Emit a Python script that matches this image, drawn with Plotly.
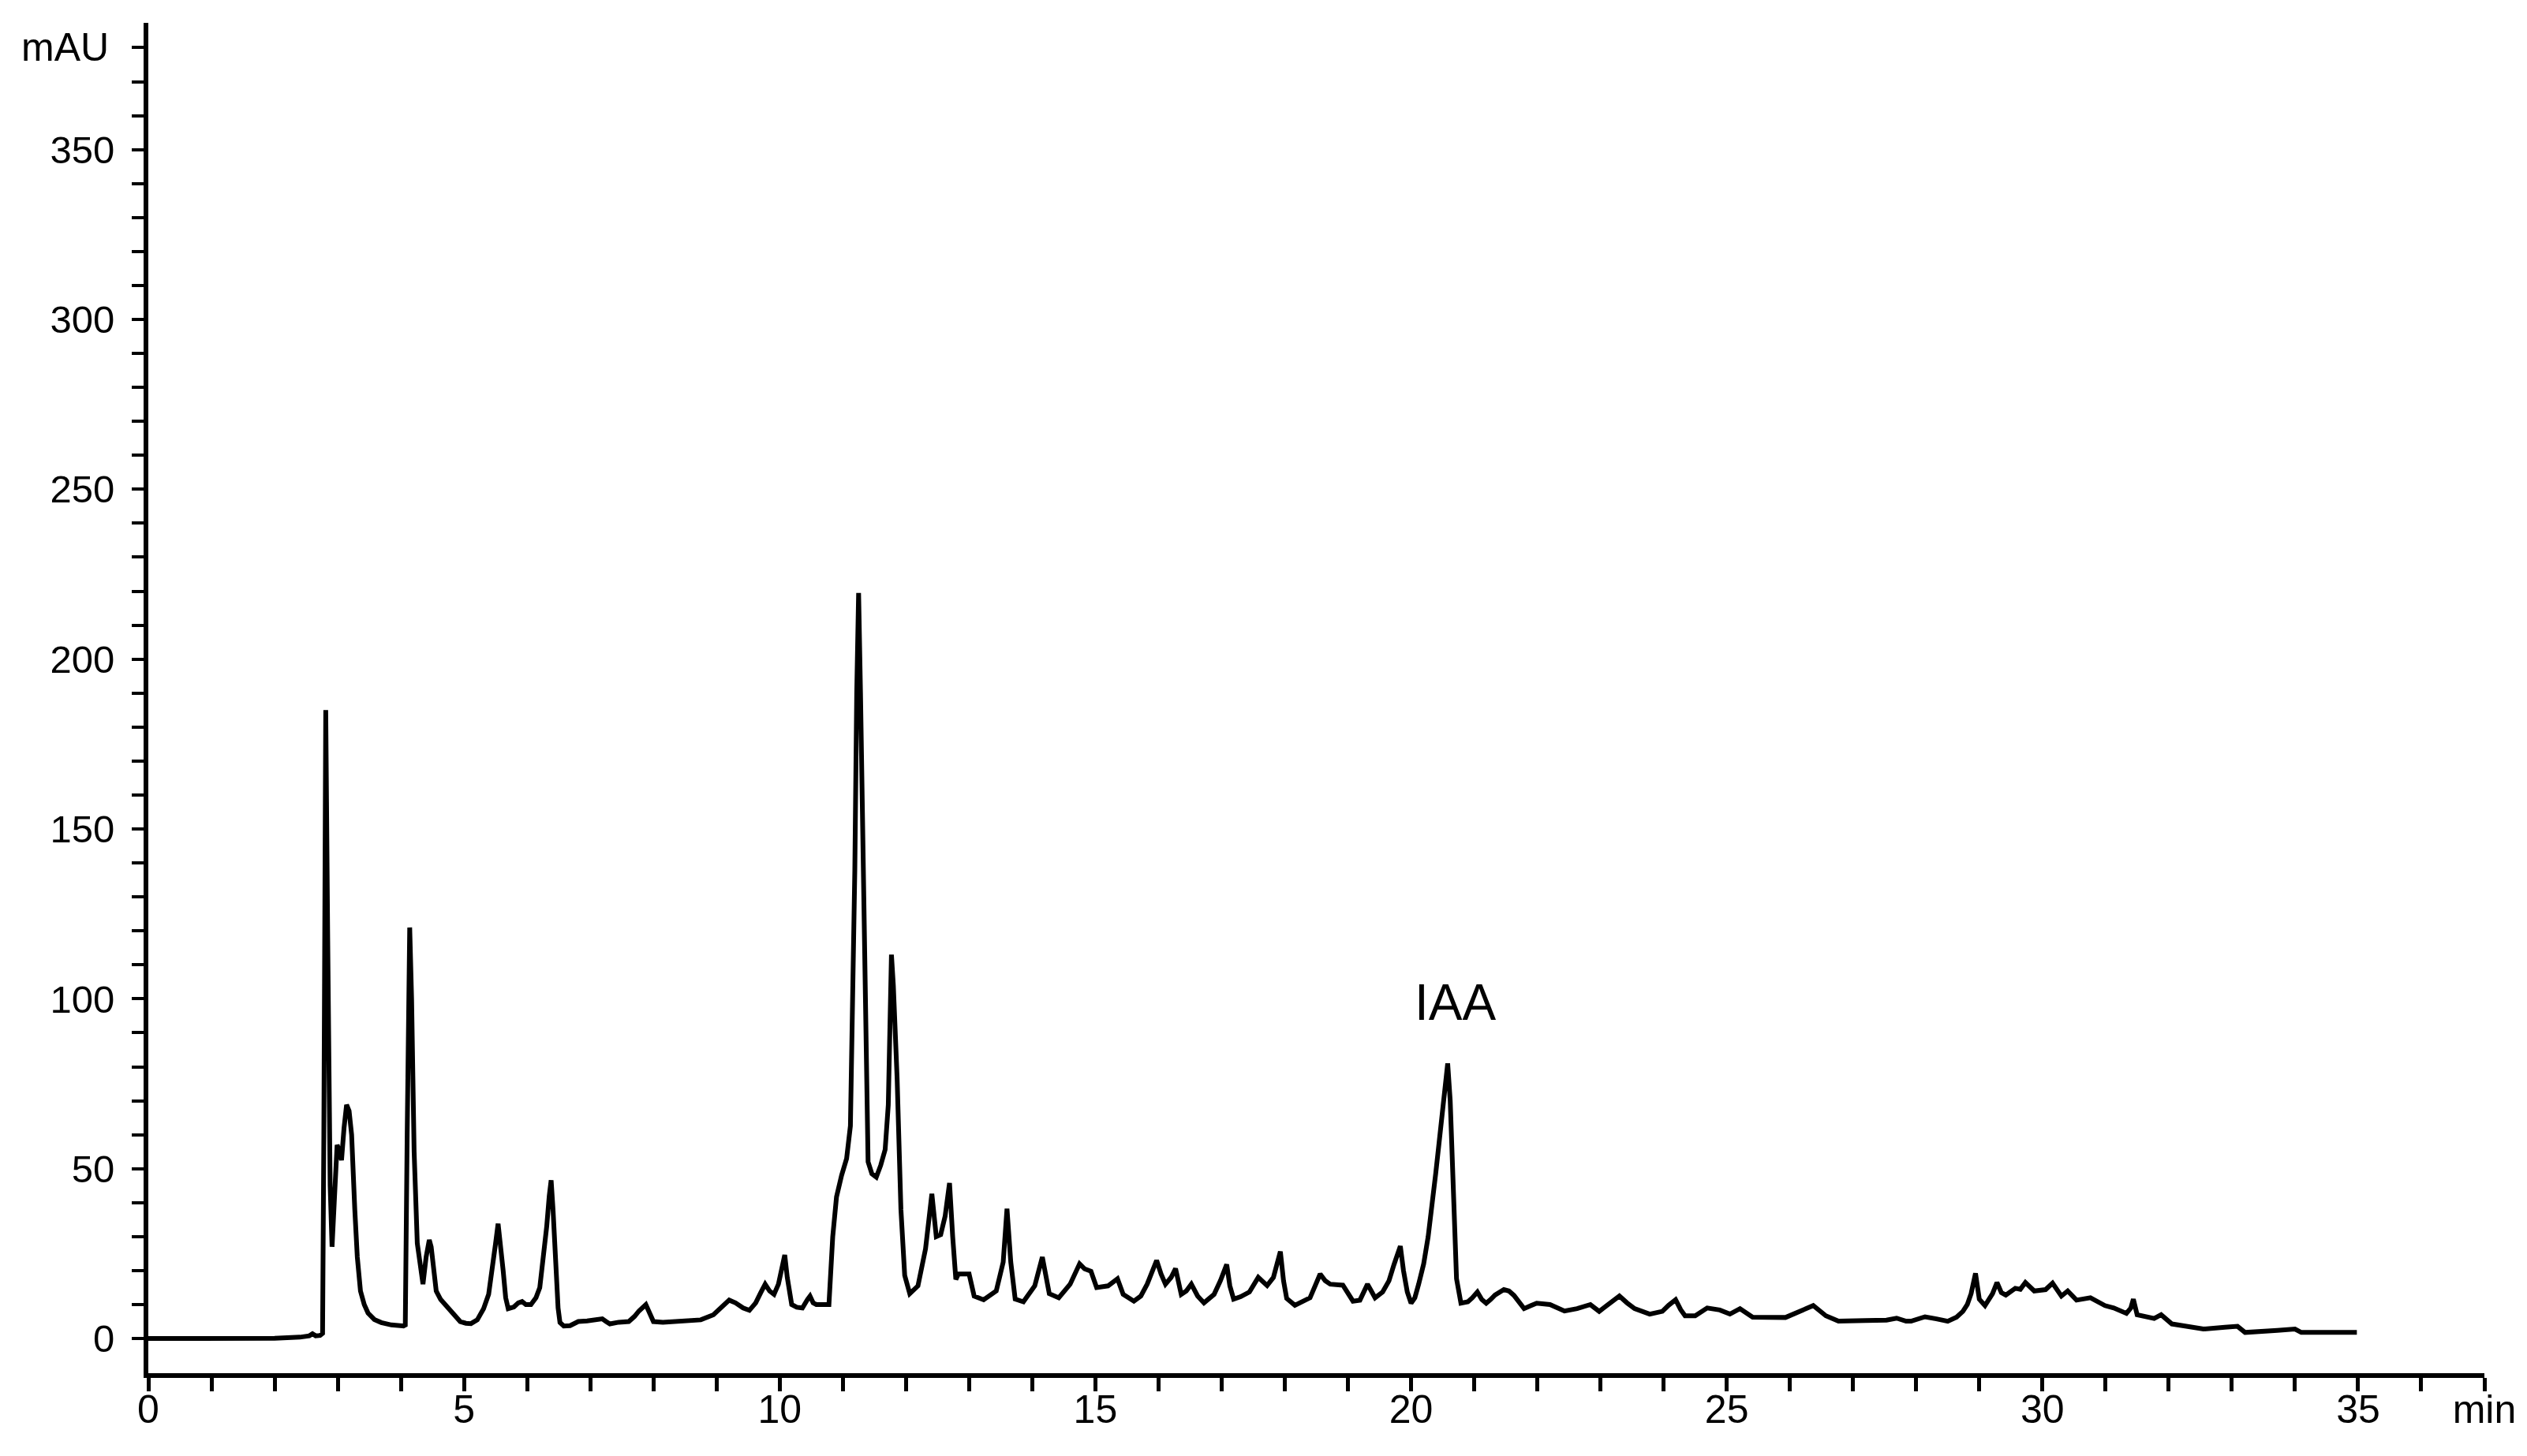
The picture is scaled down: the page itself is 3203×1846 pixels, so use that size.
import plotly.graph_objects as go

# Retention time (min) and absorbance (mAU)
retention_time = [
    0.0, 1.0, 2.0, 2.4, 2.55, 2.6, 2.65, 2.72, 2.76, 2.78,
    2.81, 2.84, 2.88, 2.91, 2.95, 2.99, 3.03, 3.06, 3.10, 3.14,
    3.18, 3.22, 3.27, 3.31, 3.36, 3.42, 3.48, 3.58, 3.69, 3.85,
    4.04, 4.07, 4.10, 4.14, 4.17, 4.21, 4.26, 4.32, 4.35, 4.40,
    4.45, 4.48, 4.52, 4.56, 4.63, 4.73, 4.84, 4.94, 5.03, 5.11,
    5.21, 5.31, 5.39, 5.45, 5.50, 5.54, 5.58, 5.62, 5.66, 5.70,
    5.79, 5.86, 5.92, 5.98, 6.06, 6.14, 6.20, 6.26, 6.31, 6.35,
    6.38, 6.41, 6.45, 6.49, 6.52, 6.58, 6.68, 6.81, 6.95, 7.10,
    7.19, 7.25, 7.31, 7.45, 7.61, 7.70, 7.77, 7.88, 7.95, 8.00,
    8.15, 8.27, 8.50, 8.75, 8.95, 9.10, 9.20, 9.30, 9.42, 9.52,
    9.62, 9.70, 9.77, 9.84, 9.91, 9.98, 10.04, 10.08, 10.12, 10.19,
    10.27, 10.36, 10.44, 10.48, 10.53, 10.58, 10.72, 10.78, 10.84, 10.90,
    10.98, 11.06, 11.12, 11.15, 11.19, 11.22, 11.25, 11.28, 11.32, 11.36,
    11.40, 11.46, 11.53, 11.60, 11.67, 11.72, 11.74, 11.77, 11.80, 11.86,
    11.92, 11.98, 12.06, 12.19, 12.31, 12.37, 12.41, 12.48, 12.55, 12.62,
    12.69, 12.74, 12.79, 12.83, 13.00, 13.08, 13.23, 13.43, 13.54, 13.60,
    13.66, 13.73, 13.86, 14.04, 14.16, 14.27, 14.42, 14.60, 14.75, 14.83,
    14.93, 15.02, 15.20, 15.35, 15.44, 15.61, 15.72, 15.82, 15.97, 16.04,
    16.11, 16.20, 16.27, 16.36, 16.44, 16.52, 16.62, 16.72, 16.88, 16.98,
    17.08, 17.13, 17.19, 17.30, 17.44, 17.58, 17.65, 17.72, 17.82, 17.93,
    17.98, 18.03, 18.16, 18.30, 18.40, 18.48, 18.56, 18.64, 18.72, 18.92,
    19.00, 19.08, 19.19, 19.25, 19.31, 19.37, 19.43, 19.55, 19.65, 19.73,
    19.83, 19.88, 19.94, 20.00, 20.06, 20.12, 20.20, 20.27, 20.33, 20.39,
    20.44, 20.49, 20.54, 20.58, 20.62, 20.66, 20.69, 20.72, 20.79, 20.90,
    20.97, 21.05, 21.12, 21.19, 21.26, 21.33, 21.47, 21.55, 21.63, 21.72,
    21.79, 21.90, 21.99, 22.20, 22.30, 22.43, 22.63, 22.74, 22.84, 22.98,
    23.14, 23.30, 23.42, 23.54, 23.78, 23.98, 24.08, 24.19, 24.27, 24.34,
    24.50, 24.69, 24.89, 25.05, 25.21, 25.41, 25.93, 26.17, 26.37, 26.57,
    26.77, 27.20, 27.53, 27.69, 27.84, 27.92, 28.14, 28.32, 28.50, 28.64,
    28.74, 28.81, 28.87, 28.94, 29.00, 29.09, 29.21, 29.28, 29.35, 29.42,
    29.57, 29.65, 29.73, 29.87, 30.05, 30.16, 30.30, 30.40, 30.54, 30.76,
    30.99, 31.13, 31.33, 31.40, 31.44, 31.50, 31.77, 31.88, 32.05, 32.28,
    32.55, 32.89, 33.09, 33.21, 33.50, 33.72, 34.00, 34.10, 34.50, 34.98,
]
absorbance = [
    0.0, 0.0, 0.1, 0.4, 0.8, 1.4, 0.8, 0.9, 1.5, 60,
    185, 120, 45, 27, 45, 57, 55, 52.5, 62, 68.8,
    67, 60, 38, 24, 14, 10, 7.5, 5.6, 4.7, 4.0,
    3.7, 4, 60, 121, 100, 55, 28, 18, 16, 24,
    29, 27, 19, 14, 11.5, 9.3, 6.8, 5, 4.5, 4.4,
    5.5, 8.8, 13, 20, 28, 33.8, 28, 20, 12, 8.8,
    9.3, 10.5, 10.9, 10, 10, 12, 15, 24, 33, 42,
    46.6, 38, 22, 9, 4.7, 3.7, 3.8, 5, 5.2, 5.5,
    5.8, 5.0, 4.3, 4.8, 5, 6.5, 8.1, 10, 7, 5,
    4.8, 5, 5.2, 5.5, 7, 9.5, 11.3, 10.5, 9, 8.3,
    10.5, 13.5, 16, 14, 13, 16, 22, 24.6, 18, 10,
    9.2, 9, 11.5, 12.5, 10.5, 10, 10, 10, 30, 41.7,
    48, 53, 62.6, 92, 138, 190, 219.5, 190, 138, 92,
    52, 48.5, 47.5, 51, 55.6, 68.8, 92, 113, 104, 76.5,
    38, 18.6, 13.2, 15.5, 26.4, 36, 42.6, 30, 30.6, 36,
    45.8, 30, 17.4, 19, 19, 12.5, 11.4, 14, 22.5, 38.2,
    22.5, 11.6, 10.8, 15.5, 24, 13.2, 12, 16, 22, 20.5,
    19.8, 15, 15.5, 17.6, 13, 11, 12.5, 16, 23, 19,
    16, 18, 20.6, 13, 14, 16, 12.5, 10.5, 13, 17,
    21.8, 15.5, 11.6, 12.3, 13.7, 18, 17, 15.6, 18, 25.6,
    17, 11.8, 9.8, 11, 12, 15.5, 19, 17, 16, 15.7,
    13, 11, 11.3, 13.5, 16, 14, 12, 13.7, 17, 21.8,
    27.2, 20, 13.7, 10.4, 12, 16, 22, 29.9, 38, 48.5,
    57, 66.5, 75, 81, 70, 50, 32, 17.6, 10.4, 10.8,
    12, 13.7, 11.5, 10.4, 11.5, 12.8, 14.4, 14, 12.7, 10.3,
    8.8, 9.7, 10.4, 10, 9.2, 8.1, 8.8, 9.5, 10, 8,
    10.4, 12.5, 10.5, 8.8, 7.2, 8, 9.8, 11.4, 8.5, 6.7,
    6.7, 9, 8.4, 7.2, 8.8, 6.3, 6.2, 8, 9.7, 6.7,
    5.1, 5.3, 5.4, 6.0, 5.1, 5.1, 6.4, 5.8, 5.1, 6.3,
    8.0, 10, 13.2, 19.2, 11.6, 9.7, 13.2, 16.5, 13.5, 12.8,
    14.8, 14.5, 16.5, 14, 14.4, 16.3, 12.5, 14, 11.3, 12,
    9.7, 9, 7.4, 9, 11.6, 7, 5.9, 7, 4.3, 3.6,
    2.8, 3.3, 3.6, 1.8, 2.0, 2.4, 2.8, 1.8, 1.8, 1.8,
]
assert len(retention_time) == len(absorbance)

x_tickvals = [0, 5, 10, 15, 20, 25, 30, 35, 37]
x_ticktext = ["0", "5", "10", "15", "20", "25", "30", "35", "min"]
x_minor = [v for v in range(1, 37)]
y_tickvals = [0, 50, 100, 150, 200, 250, 300, 350]
y_ticktext = ["0", "50", "100", "150", "200", "250", "300", "350"]
y_minor = [v for v in range(10, 390, 10)]
peak_label = "IAA"
peak_label_pos = (20.7, 99)
y_unit = "mAU"

FONT = "Liberation Sans, Arial, sans-serif"

fig = go.Figure()
fig.add_trace(go.Scatter(
    x=retention_time, y=absorbance, mode="lines",
    line=dict(color="black", width=6), showlegend=False, hoverinfo="skip",
))

fig.add_annotation(
    x=peak_label_pos[0], y=peak_label_pos[1], text=peak_label, showarrow=False,
    xanchor="center", yanchor="middle", font=dict(family=FONT, size=64, color="black"),
)
fig.add_annotation(
    x=0, xref="paper", y=380, yref="y", text=y_unit, showarrow=False,
    xanchor="right", yanchor="middle", xshift=-48,
    font=dict(family=FONT, size=50, color="black"),
)

# page body has an 8px margin, so the figure is 8px smaller and shifted
fig.update_layout(
    width=3195, height=1838,
    margin=dict(l=180, r=54, t=21, b=105, pad=0),
    paper_bgcolor="white", plot_bgcolor="white",
    font=dict(family=FONT, color="black"),
    xaxis=dict(
        range=[0, 37], showgrid=False, zeroline=False,
        showline=True, linecolor="black", linewidth=6,
        ticks="outside", ticklen=17, tickwidth=5, tickcolor="black",
        tickvals=x_tickvals, ticktext=x_ticktext,
        tickfont=dict(family=FONT, size=50, color="black"),
        ticklabelstandoff=-20,
        minor=dict(tickvals=x_minor, ticks="outside", ticklen=17, tickwidth=5, tickcolor="black", showgrid=False),
    ),
    yaxis=dict(
        range=[-10.2, 387.3], showgrid=False, zeroline=False,
        showline=True, linecolor="black", linewidth=6,
        ticks="outside", ticklen=15, tickwidth=4, tickcolor="black",
        tickvals=y_tickvals, ticktext=y_ticktext,
        tickfont=dict(family=FONT, size=49, color="black"),
        ticklabelstandoff=12,
        minor=dict(tickvals=y_minor, ticks="outside", ticklen=15, tickwidth=4, tickcolor="black", showgrid=False),
    ),
)

fig.write_html("out.html")
